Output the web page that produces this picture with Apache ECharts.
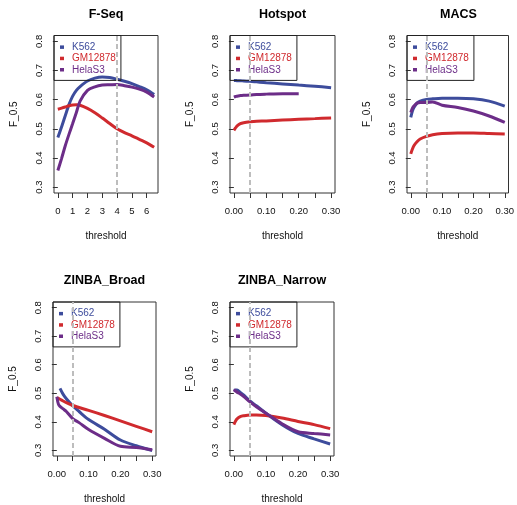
<!DOCTYPE html>
<html>
<head>
<meta charset="utf-8">
<script src="https://cdn.jsdelivr.net/npm/echarts@6/dist/echarts.min.js"></script>
<style>
  html, body { margin: 0; background: #fff; }
  #chart { width: 517px; height: 505px; }
</style>
</head>
<body>
<div id="chart"></div>
<script>
// ===== F_0.5 vs threshold, 5 peak callers =====

const CELLS = ['K562', 'GM12878', 'HelaS3'];
const TITLES = ['F-Seq', 'Hotspot', 'MACS', 'ZINBA_Broad', 'ZINBA_Narrow'];
const CUTOFFS = [4, 0.05, 0.05, 0.05, 0.05];

const Y_TICKS = [0.3, 0.4, 0.5, 0.6, 0.7, 0.8];
const FSEQ_TICKS = [0, 1, 2, 3, 4, 5, 6];
const THR_TICKS = [0, 0.05, 0.1, 0.15, 0.2, 0.25, 0.3];
const THR_LABELS = [0, 0.1, 0.2, 0.3];

// F-Seq
const fseqX = [0, 0.25, 0.5, 0.75, 1, 1.25, 1.5, 2, 2.5, 3, 3.5, 4, 4.5, 5, 5.5, 6, 6.5];
const fseqK562 = [0.470, 0.506, 0.545, 0.583, 0.612, 0.632, 0.645, 0.664, 0.674, 0.678, 0.676, 0.670, 0.663, 0.655, 0.645, 0.634, 0.618];
const fseqGM12878 = [0.567, 0.571, 0.575, 0.579, 0.582, 0.583, 0.581, 0.570, 0.555, 0.537, 0.518, 0.500, 0.487, 0.476, 0.464, 0.452, 0.437];
const fseqHelaS3 = [0.357, 0.398, 0.442, 0.481, 0.518, 0.556, 0.595, 0.632, 0.644, 0.650, 0.651, 0.652, 0.648, 0.643, 0.636, 0.626, 0.609];

// threshold grid shared by the other four callers
const thrX = [0, 0.005, 0.01, 0.02, 0.03, 0.05, 0.07, 0.1, 0.15, 0.2, 0.25, 0.3];

const hotspotK562 = [0.666, 0.666, 0.665, 0.665, 0.664, 0.663, 0.661, 0.658, 0.654, 0.650, 0.646, 0.641];
const hotspotGM12878 = [0.495, 0.503, 0.510, 0.518, 0.521, 0.524, 0.526, 0.527, 0.530, 0.533, 0.535, 0.537];
const hotspotHelaS3 = [0.609, 0.611, 0.612, 0.614, 0.615, 0.616, 0.618, 0.619, 0.620, 0.620, null, null];

const macsK562 = [0.539, 0.560, 0.573, 0.588, 0.595, 0.601, 0.603, 0.605, 0.605, 0.603, 0.595, 0.578];
const macsGM12878 = [0.414, 0.430, 0.442, 0.456, 0.465, 0.474, 0.480, 0.484, 0.486, 0.486, 0.484, 0.482];
const macsHelaS3 = [0.556, 0.570, 0.578, 0.588, 0.590, 0.590, 0.592, 0.581, 0.573, 0.561, 0.544, 0.522];

const broadK562 = [null, null, 0.517, 0.496, 0.481, 0.456, 0.436, 0.408, 0.374, 0.336, 0.316, 0.299];
const broadGM12878 = [0.485, 0.482, 0.479, 0.473, 0.467, 0.457, 0.450, 0.440, 0.422, 0.403, 0.384, 0.365];
const broadHelaS3 = [0.488, 0.462, 0.454, 0.445, 0.436, 0.411, 0.397, 0.373, 0.342, 0.314, 0.310, 0.302];

const narrowK562 = [0.510, 0.511, 0.511, 0.503, 0.494, 0.473, 0.456, 0.430, 0.390, 0.359, 0.340, 0.322];
const narrowGM12878 = [0.390, 0.402, 0.410, 0.418, 0.421, 0.424, 0.424, 0.422, 0.413, 0.401, 0.390, 0.376];
const narrowHelaS3 = [0.513, 0.508, 0.504, 0.497, 0.489, 0.470, 0.453, 0.430, 0.393, 0.365, 0.359, 0.354];

const PANEL_DATA = [
  [fseqX, [fseqK562, fseqGM12878, fseqHelaS3]],
  [thrX, [hotspotK562, hotspotGM12878, hotspotHelaS3]],
  [thrX, [macsK562, macsGM12878, macsHelaS3]],
  [thrX, [broadK562, broadGM12878, broadHelaS3]],
  [thrX, [narrowK562, narrowGM12878, narrowHelaS3]],
];

const COLORS = ['#3d4c9c', '#d02a2e', '#6c2d88'];
const FONT = '"Liberation Sans", Arial, Helvetica, sans-serif';

// plot boxes (px)
const BOXES = [
  { left: 54, top: 35.5, width: 104, height: 157.5 },
  { left: 230, top: 35.5, width: 105, height: 157.5 },
  { left: 407, top: 35.5, width: 103, height: 157.5 },
  { left: 53, top: 302, width: 103, height: 157.5 },
  { left: 230, top: 302, width: 104, height: 157.5 },
];

const chart = echarts.init(document.getElementById('chart'));

const grid = [], xAxis = [], yAxis = [], legend = [], series = [], graphic = [];

BOXES.forEach((b, p) => {
  const isFseq = p === 0;
  grid.push({ ...b, show: true, borderColor: '#333', borderWidth: 1, backgroundColor: 'transparent' });

  xAxis.push({
    gridIndex: p, type: 'value',
    min: isFseq ? -0.26 : -0.012,
    max: isFseq ? 6.76 : 0.312,
    axisLine: { show: false },
    splitLine: { show: false },
    axisTick: { length: 5, lineStyle: { color: '#333' }, customValues: isFseq ? FSEQ_TICKS : THR_TICKS },
    axisLabel: {
      customValues: isFseq ? FSEQ_TICKS : THR_LABELS,
      formatter: v => isFseq ? String(v) : v.toFixed(2),
      fontSize: 9.5, fontFamily: FONT, color: '#111', margin: 13,
    },
    name: 'threshold', nameLocation: 'middle', nameGap: 38,
    nameTextStyle: { fontSize: 10, fontFamily: FONT, color: '#111' },
  });

  yAxis.push({
    gridIndex: p, type: 'value', min: 0.28, max: 0.82,
    axisLine: { show: false },
    splitLine: { show: false },
    axisTick: { length: 5, lineStyle: { color: '#333' }, customValues: Y_TICKS },
    axisLabel: {
      customValues: Y_TICKS, rotate: 90,
      formatter: v => v.toFixed(1),
      fontSize: 9.5, fontFamily: FONT, color: '#111', margin: 10,
    },
    name: 'F_0.5', nameLocation: 'middle', nameGap: 35,
    nameTextStyle: { fontSize: 10, fontFamily: FONT, color: '#111' },
  });

  legend.push({
    left: b.left, top: b.top, orient: 'vertical',
    padding: [6, 5, 5, 6], itemGap: 0,
    itemWidth: 4, itemHeight: 3.5, icon: 'rect',
    borderColor: '#222', borderWidth: 1, backgroundColor: 'transparent',
    textStyle: { fontSize: 10, fontFamily: FONT, lineHeight: 11.3, padding: [0, 0, 0, 3] },
    data: CELLS.map((c, j) => ({ name: c, textStyle: { color: COLORS[j] } })),
  });

  const [xs, ys] = PANEL_DATA[p];
  ys.forEach((vals, j) => {
    const s = {
      type: 'line', name: CELLS[j],
      xAxisIndex: p, yAxisIndex: p,
      data: xs.map((x, i) => [x, vals[i]]).filter(d => d[1] != null),
      showSymbol: false, smooth: 0.3,
      lineStyle: { width: 3, color: COLORS[j] },
      itemStyle: { color: COLORS[j] },
    };
    if (j === ys.length - 1) {
      s.markLine = {
        symbol: 'none', silent: true,
        label: { show: false },
        lineStyle: { color: '#bdbdbd', width: 2, type: [5, 3] },
        data: [{ xAxis: CUTOFFS[p] }],
      };
    }
    series.push(s);
  });

  graphic.push({
    type: 'text',
    x: b.left + b.width / 2, y: b.top - 21,
    style: {
      text: TITLES[p], align: 'center', verticalAlign: 'middle',
      font: `bold 12.5px ${FONT}`, fill: '#000',
    },
  });
});

chart.setOption({
  animation: false,
  grid, xAxis, yAxis, legend, series, graphic,
});
</script>
</body>
</html>
